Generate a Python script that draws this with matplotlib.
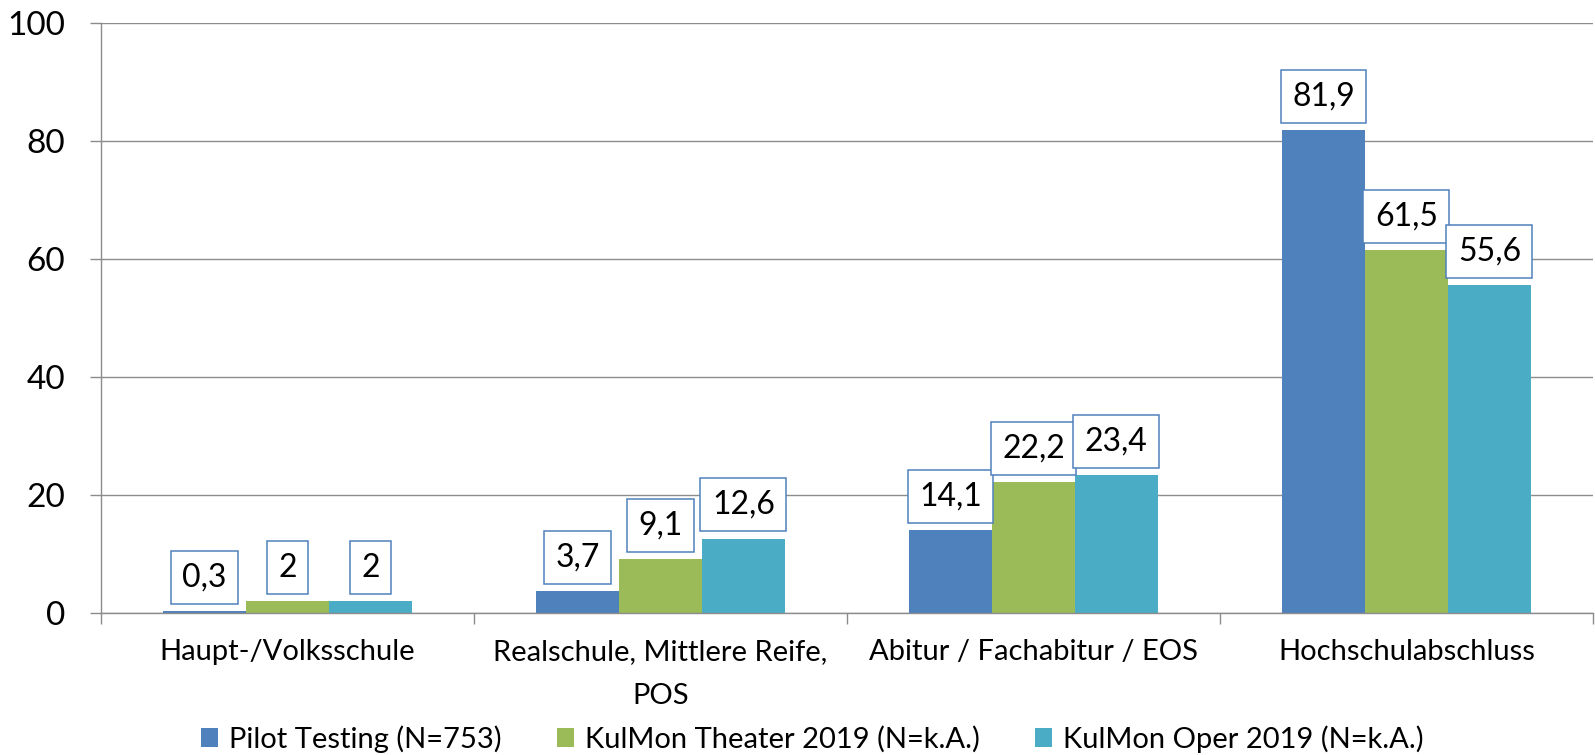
import numpy as np
import matplotlib.pyplot as plt
from matplotlib.patches import Patch

plt.rcParams['font.family'] = ['Lato', 'DejaVu Sans']

# Data
categories = ['Haupt-/Volksschule', 'Realschule, Mittlere Reife,\nPOS',
              'Abitur / Fachabitur / EOS', 'Hochschulabschluss']
series_names = ['Pilot Testing (N=753)', 'KulMon Theater 2019 (N=k.A.)',
                'KulMon Oper 2019 (N=k.A.)']
pilot = [0.3, 3.7, 14.1, 81.9]
theater = [2, 9.1, 22.2, 61.5]
oper = [2, 12.6, 23.4, 55.6]
colors = ['#4F81BD', '#9BBB59', '#4BACC6']

grid_c = '#8C8C8C'

fig = plt.figure(figsize=(15.95, 7.55), dpi=100)
ax = fig.add_axes([0.0633, 0.188, 0.9354, 0.7815])

x = np.arange(len(categories))
w = 0.667 / 3

def fmt(v):
    if float(v).is_integer():
        return str(int(v))
    return f'{v:.1f}'.replace('.', ',')

for i, (vals, c) in enumerate(zip([pilot, theater, oper], colors)):
    pos = x + (i - 1) * w
    ax.bar(pos, vals, width=w, color=c, zorder=2)
    for p, v in zip(pos, vals):
        ax.annotate(fmt(v), xy=(p, v), xytext=(0, 13.5), textcoords='offset points',
                    ha='center', va='bottom', fontsize=23, zorder=4,
                    bbox=dict(boxstyle='square,pad=0.36', fc='white',
                              ec='#4F81BD', lw=1.1))

ax.set_xlim(-0.5, len(categories) - 0.5)
ax.set_ylim(0, 100)
ax.set_yticks(range(0, 101, 20))
ax.yaxis.grid(True, color=grid_c, lw=1.0, zorder=1)
ax.set_axisbelow(True)

# boundaries as major ticks, category names on minor ticks
ax.set_xticks(np.arange(-0.5, len(categories)), labels=[''] * (len(categories) + 1))
ax.set_xticks(x, minor=True, labels=categories)
ax.tick_params(axis='x', which='major', length=8, color=grid_c, width=1.0)
ax.tick_params(axis='x', which='minor', length=0, pad=19, labelsize=21)
for lbl in ax.get_xticklabels(minor=True):
    lbl.set_linespacing(1.85)
ax.tick_params(axis='y', length=8, color=grid_c, width=1.0, pad=18, labelsize=24)

for s in ['top', 'right']:
    ax.spines[s].set_visible(False)
for s in ['left', 'bottom']:
    ax.spines[s].set_color(grid_c)
    ax.spines[s].set_linewidth(1.0)

handles = [Patch(facecolor=c, label=n) for c, n in zip(colors, series_names)]
fig.legend(handles=handles, loc='center', bbox_to_anchor=(812 / 1595, 0.021),
           ncol=3, frameon=False, fontsize=21, handlelength=0.6,
           handleheight=0.6, handletextpad=0.36, columnspacing=1.9)

fig.savefig('out.png', dpi=100)
